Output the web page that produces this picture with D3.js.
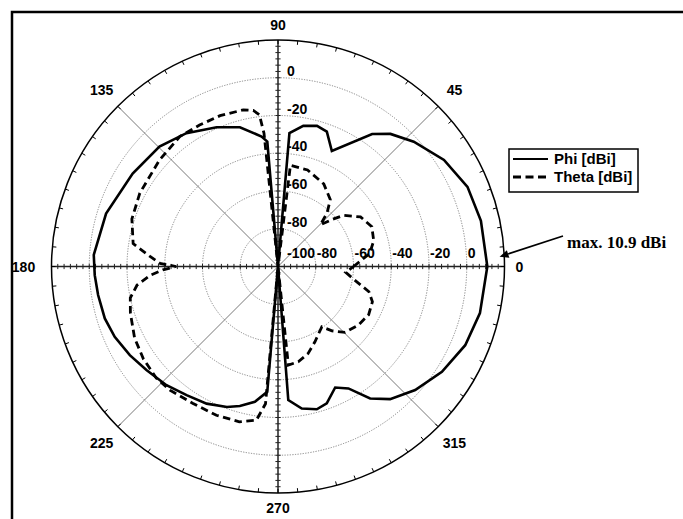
<!DOCTYPE html>
<html>
<head>
<meta charset="utf-8">
<script src="https://cdn.jsdelivr.net/npm/d3@7"></script>
<style>
  html, body { margin: 0; padding: 0; background: #fff; }
  svg { display: block; }
  text { font-family: "Liberation Sans", Arial, sans-serif; font-weight: bold; fill: #000; }
</style>
</head>
<body>
<script>
// Radiation pattern: angle in degrees (counter-clockwise from 0), gain in dBi
const phiAngles = [0, 12.7, 22.8, 32.7, 42.6, 49.7, 54.6, 65, 70.1, 74.5, 79.8, 85.1, 90,
  94.9, 97.2, 105.3, 113.8, 124.5, 134.7, 147.4, 162.9, 176.4, 182.7, 189, 196.7, 203.3, 210.9,
  218.2, 226.8, 234.6, 242.5, 250, 254.7, 260.3, 265.1, 270, 274.4, 279.5, 285.2, 289.6, 295.3,
  300, 304.9, 310.2, 318, 327.3, 337.2, 347, 360];
const phiValues = [10.9, 10.2, 8.9, 4.5, -2.3, -7.9, -13.9, -32.5, -24, -22.7, -24.3, -29.1, -100,
  -33.6, -30.6, -23.5, -19.4, -14.3, -10.7, -8.6, -4.7, -2.2, -2.8, -3.5, -4.2, -5.8, -8.5,
  -11.3, -13.7, -16.4, -18.1, -20.8, -23.4, -27.3, -33.4, -100, -29, -23.7, -21.6, -23, -29.1,
  -25.4, -14.7, -8, -2.2, 3.2, 7.6, 9.8, 10.9];

const thetaAngles = [0, 8, 15, 23, 31, 38, 41, 44.5, 47.5, 52, 61, 73, 83, 90,
  96, 97, 99, 102.5, 111, 119, 127, 138, 152, 162, 171, 175.5, 178.5, 180, 181.7, 184,
  187.5, 192, 197.5, 206.5, 214.5, 222.5, 229, 238, 247.5, 256, 262, 264.8, 270,
  276, 282, 289, 296, 306, 310, 315.5, 324, 332, 339.5, 344.5, 351, 355, 360];
const thetaValues = [-60, -51, -47.5, -46, -49, -56, -62, -68.5, -61.5, -55, -50, -46.5, -46, -100,
  -29, -19, -16.3, -15, -14.4, -14.3, -13.7, -15.6, -17.1, -18.6, -22.3, -32, -37.5, -46, -39, -32,
  -24.7, -20, -18, -15.1, -13.5, -12.5, -13, -14.6, -14.7, -15.2, -17.8, -27, -100,
  -47.5, -48.4, -51.2, -55.5, -60.5, -55.5, -50.2, -47.3, -45.6, -46.6, -50, -60, -64, -60];

// Axis tick values
const ringValues = [-100, -80, -60, -40, -20, 0];
const angleLabels = [0, 45, 90, 135, 180, 225, 270, 315];
const seriesNames = ["Phi [dBi]", "Theta [dBi]"];
const maxNote = "max. 10.9 dBi";

const W = 683, H = 519;
const cx = 278, cy = 266.5;

const svg = d3.select("body").append("svg")
  .attr("width", W).attr("height", H);

svg.append("rect").attr("width", W).attr("height", H).attr("fill", "#fff");

// outer frame (left & top edges)
svg.append("path")
  .attr("d", `M12,${H} V12 H${W}`)
  .attr("fill", "none").attr("stroke", "#000").attr("stroke-width", 2.5);

const r = d3.scaleLinear().domain([-100, 20]).range([0, 226.5]);
const R = r(20);
const toRad = d => (90 - d) * Math.PI / 180;   // compass-style angle for d3.lineRadial
const polar = (deg, rad) => [cx + rad * Math.cos(deg * Math.PI / 180), cy - rad * Math.sin(deg * Math.PI / 180)];

const g = svg.append("g").attr("transform", `translate(${cx},${cy})`);

// dotted rings
g.selectAll("circle.ring").data(ringValues.filter(v => v > -100))
  .join("circle").attr("class", "ring")
  .attr("r", d => r(d)).attr("fill", "none")
  .attr("stroke", "#777").attr("stroke-width", 0.9).attr("stroke-dasharray", "1.2,1.4");

// diagonal spokes
g.selectAll("line.spoke").data([45, 135, 225, 315])
  .join("line").attr("class", "spoke")
  .attr("x1", 0).attr("y1", 0)
  .attr("x2", d => R * Math.cos(d * Math.PI / 180))
  .attr("y2", d => -R * Math.sin(d * Math.PI / 180))
  .attr("stroke", "#555").attr("stroke-width", 0.8);

// main axes
g.append("line").attr("x1", -R).attr("x2", R).attr("y1", 0).attr("y2", 0)
  .attr("stroke", "#222").attr("stroke-width", 1.5);
g.append("line").attr("y1", -R).attr("y2", R).attr("x1", 0).attr("x2", 0)
  .attr("stroke", "#222").attr("stroke-width", 1.5);

// minor ticks along the axes
const minorVals = d3.range(-100 + 20 / 6, 20, 20 / 6);
const tickLen = 2.6;
const axTicks = g.append("g").attr("stroke", "#222").attr("stroke-width", 1);
minorVals.forEach(v => {
  const d = r(v);
  [[d, 0], [-d, 0]].forEach(([x, y]) => axTicks.append("line")
    .attr("x1", x).attr("x2", x).attr("y1", y - tickLen).attr("y2", y + tickLen));
  [[0, d], [0, -d]].forEach(([x, y]) => axTicks.append("line")
    .attr("x1", x - tickLen).attr("x2", x + tickLen).attr("y1", y).attr("y2", y));
});

// outer circle with inward angular ticks every 5 degrees
g.append("circle").attr("r", R).attr("fill", "none").attr("stroke", "#000").attr("stroke-width", 1.5);
g.selectAll("line.atick").data(d3.range(0, 360, 5))
  .join("line").attr("class", "atick")
  .attr("x1", d => R * Math.cos(d * Math.PI / 180))
  .attr("y1", d => -R * Math.sin(d * Math.PI / 180))
  .attr("x2", d => (R - 4) * Math.cos(d * Math.PI / 180))
  .attr("y2", d => -(R - 4) * Math.sin(d * Math.PI / 180))
  .attr("stroke", "#000").attr("stroke-width", 1);

// angle labels (the 180 label sits a little further out, clear of the rim)
const labelRadius = d => R + 15 + 8 * Math.abs(Math.sin(2 * d * Math.PI / 180)) + (d === 180 ? 13 : 0);
svg.selectAll("text.alab").data(angleLabels)
  .join("text").attr("class", "alab")
  .attr("x", d => polar(d, labelRadius(d))[0])
  .attr("y", d => polar(d, labelRadius(d))[1])
  .attr("dy", "0.36em").attr("text-anchor", "middle")
  .style("font-size", "14px").text(d => d);

// radial labels: along the vertical axis
svg.selectAll("text.vlab").data(ringValues.filter(v => v > -100))
  .join("text").attr("class", "vlab")
  .attr("x", cx + 9).attr("y", d => cy - r(d) - 7)
  .attr("dy", "0.36em").style("font-size", "14px").text(d => d);

// radial labels: along the horizontal axis
svg.selectAll("text.hlab").data(ringValues)
  .join("text").attr("class", "hlab")
  .attr("x", d => cx + r(d) + (d === -100 ? 9 : 1)).attr("y", cy - 14)
  .attr("dy", "0.36em").style("font-size", "14px").text(d => d);

// pattern curves
const line = d3.lineRadial().curve(d3.curveLinear);
const phiPts = phiAngles.map((a, i) => [toRad(a), r(phiValues[i])]);
const thetaPts = thetaAngles.map((a, i) => [toRad(a), r(thetaValues[i])]);

g.append("path").attr("d", line(thetaPts))
  .attr("fill", "none").attr("stroke", "#000").attr("stroke-width", 2.8)
  .attr("stroke-dasharray", "7.5,4.5").attr("stroke-linejoin", "miter");
g.append("path").attr("d", line(phiPts))
  .attr("fill", "none").attr("stroke", "#000").attr("stroke-width", 2.6)
  .attr("stroke-linejoin", "miter");

// legend
const lg = svg.append("g").attr("transform", "translate(509,149)");
lg.append("rect").attr("width", 129).attr("height", 43)
  .attr("fill", "#fff").attr("stroke", "#000").attr("stroke-width", 1.5);
seriesNames.forEach((name, i) => {
  const y = 10 + i * 18;
  lg.append("line").attr("x1", 4).attr("x2", 39).attr("y1", y).attr("y2", y)
    .attr("stroke", "#000").attr("stroke-width", i ? 2.8 : 2)
    .attr("stroke-dasharray", i ? "8,4.5" : null);
  lg.append("text").attr("x", 45).attr("y", y).attr("dy", "0.36em")
    .style("font-size", "15px").text(name);
});

// maximum-gain annotation
const tip = polar(2.5, r(17.5));
const tail = [563, 236];
const ang = Math.atan2(tip[1] - tail[1], tip[0] - tail[0]);
const ah = 9, aw = 4;
const base = [tip[0] - ah * Math.cos(ang), tip[1] - ah * Math.sin(ang)];
svg.append("line").attr("x1", tail[0]).attr("y1", tail[1]).attr("x2", base[0]).attr("y2", base[1])
  .attr("stroke", "#000").attr("stroke-width", 1.8);
svg.append("path")
  .attr("d", `M${tip[0]},${tip[1]} L${base[0] + aw * Math.sin(ang)},${base[1] - aw * Math.cos(ang)} L${base[0] - aw * Math.sin(ang)},${base[1] + aw * Math.cos(ang)} Z`)
  .attr("fill", "#000");
svg.append("text").attr("x", 567).attr("y", 248)
  .style("font-family", "'Liberation Serif', 'Times New Roman', serif")
  .style("font-size", "17px").text(maxNote);
</script>
</body>
</html>
